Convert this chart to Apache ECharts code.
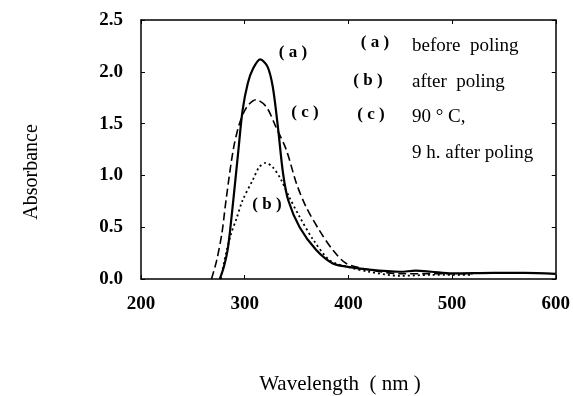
<!DOCTYPE html>
<html>
<head>
<meta charset="utf-8">
<script src="https://cdn.jsdelivr.net/npm/echarts@6/dist/echarts.min.js"></script>
<style>
  html, body { margin: 0; padding: 0; background: #fff; }
  #chart { width: 573px; height: 396px; }
</style>
</head>
<body>
<div id="chart"></div>
<script>
// absorbance spectra
var xTicks = [200, 300, 400, 500, 600];
var yTicks = [0, 0.5, 1.0, 1.5, 2.0, 2.5];

// (a) before poling - solid
var wlA  = [276, 280, 284, 289, 294, 298, 303, 308, 315, 322, 327, 332, 337, 342, 353, 369, 385, 398, 420, 450, 465, 480, 500, 540, 570, 600];
var absA = [0, 0.12, 0.31, 0.76, 1.25, 1.63, 1.89, 2.03, 2.12, 2.05, 1.86, 1.47, 1.02, 0.76, 0.50, 0.28, 0.15, 0.12, 0.09, 0.07, 0.08, 0.07, 0.055, 0.06, 0.06, 0.05];

// (b) after poling - dotted
var wlB  = [277, 282, 287, 292, 298, 308, 314, 320, 327, 335, 343, 353, 366, 382, 398, 420, 450, 480, 520];
var absB = [0, 0.25, 0.44, 0.58, 0.76, 0.96, 1.08, 1.12, 1.08, 0.96, 0.79, 0.60, 0.38, 0.18, 0.12, 0.07, 0.03, 0.04, 0.04];

// (c) 90 C, 9 h after poling - dashed
var wlC  = [268, 273, 278, 282, 289, 295, 302, 311, 321, 330, 340, 350, 359, 372, 385, 398, 420, 450, 480, 520];
var absC = [0, 0.18, 0.44, 0.76, 1.25, 1.50, 1.66, 1.73, 1.66, 1.47, 1.25, 0.92, 0.70, 0.47, 0.28, 0.15, 0.09, 0.05, 0.05, 0.05];

function pairs(xs, ys) { return xs.map(function (x, i) { return [x, ys[i]]; }); }
function _ext(a, b) { for (var k in b) a[k] = b[k]; return a; }

var serif = '"Liberation Serif", "DejaVu Serif", serif';
var chart = echarts.init(document.getElementById('chart'));

var tickLbl = { color: '#000', fontFamily: serif, fontWeight: 'bold', fontSize: 19 };
var frame = { show: true, onZero: false, lineStyle: { color: '#000', width: 1.5 } };
var ticks = { show: true, inside: true, length: 4, lineStyle: { color: '#000' } };
function txt(x, y, s, bold, size, align) {
    return { type: 'text', x: x, y: y, style: { text: s, fill: '#000', font: (bold ? 'bold ' : '') + size + 'px ' + serif, textAlign: align || 'left', textVerticalAlign: 'middle' } };
}

chart.setOption({
    animation: false,
    backgroundColor: '#fff',
    grid: { left: 141, top: 20, right: 16, bottom: 117 },
    xAxis: [{
        type: 'value', min: xTicks[0], max: xTicks[xTicks.length - 1], interval: 100,
        axisLine: frame, axisTick: ticks,
        axisLabel: _ext({ margin: 16 }, tickLbl),
        splitLine: { show: false }
    }, {
        type: 'value', min: xTicks[0], max: xTicks[xTicks.length - 1], interval: 100, position: 'top',
        axisLine: frame, axisTick: ticks,
        axisLabel: { show: false }, splitLine: { show: false }
    }],
    yAxis: [{
        type: 'value', min: yTicks[0], max: yTicks[yTicks.length - 1], interval: 0.5,
        axisLine: frame, axisTick: ticks,
        axisLabel: _ext({ margin: 18, formatter: function (v) { return v.toFixed(1); } }, tickLbl),
        splitLine: { show: false }
    }, {
        type: 'value', min: yTicks[0], max: yTicks[yTicks.length - 1], interval: 0.5, position: 'right',
        axisLine: frame, axisTick: ticks,
        axisLabel: { show: false }, splitLine: { show: false }
    }],
    series: [
        { name: 'a', type: 'line', data: pairs(wlA, absA), smooth: 0.3, showSymbol: false,
          lineStyle: { color: '#000', width: 2.2, type: 'solid' } },
        { name: 'b', type: 'line', data: pairs(wlB, absB), smooth: 0.3, showSymbol: false,
          lineStyle: { color: '#000', width: 1.8, type: [2, 3] } },
        { name: 'c', type: 'line', data: pairs(wlC, absC), smooth: 0.3, showSymbol: false,
          lineStyle: { color: '#000', width: 1.6, type: [8, 4] } }
    ],
    graphic: [
        // axis titles
        { type: 'text', x: 32, y: 172, rotation: Math.PI / 2,
          style: { text: 'Absorbance', fill: '#000', font: '20px ' + serif, textAlign: 'center', textVerticalAlign: 'middle' } },
        txt(340, 384, 'Wavelength  ( nm )', false, 21, 'center'),
        // curve labels
        txt(293, 53, '( a )', true, 17, 'center'),
        txt(305, 113, '( c )', true, 17, 'center'),
        txt(267, 205, '( b )', true, 17, 'center'),
        // key
        txt(375, 43, '( a )', true, 17, 'center'),
        txt(412, 46, 'before  poling', false, 19),
        txt(368, 81, '( b )', true, 17, 'center'),
        txt(412, 82, 'after  poling', false, 19),
        txt(371, 115, '( c )', true, 17, 'center'),
        txt(412, 117, '90 ° C,', false, 19),
        txt(412, 153, '9 h. after poling', false, 19)
    ]
});
</script>
</body>
</html>
